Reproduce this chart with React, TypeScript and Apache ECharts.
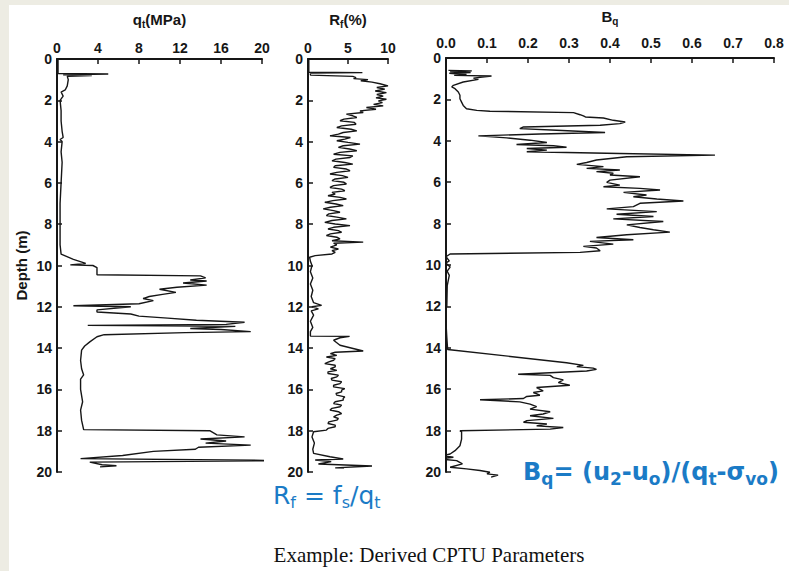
import React, { useEffect, useRef } from "react";
import * as echarts from "echarts";

// ---------- data (depth in m, value read from the profile) ----------
const qtDepth = [0, 0.7, 0.73, 0.76, 0.8, 0.84, 1.0, 1.3, 1.5, 1.6, 1.8, 2.0, 2.5, 3.0, 3.5, 3.8, 3.9, 4.0, 4.5, 5.0, 6.0, 7.0, 8.0, 9.0, 9.45, 9.7, 9.9, 9.97, 10.0, 10.1, 10.45, 10.5, 10.6, 10.7, 10.75, 10.85, 10.95, 11.05, 11.15, 11.3, 11.4, 11.5, 11.6, 11.7, 11.85, 11.95, 12.0, 12.15, 12.25, 12.35, 12.45, 12.55, 12.65, 12.75, 12.85, 12.9, 12.95, 13.05, 13.1, 13.2, 13.25, 13.35, 13.45, 13.7, 13.9, 14.1, 14.6, 15.0, 15.3, 15.5, 16.0, 16.6, 17.0, 17.5, 17.95, 18.0, 18.2, 18.3, 18.4, 18.5, 18.6, 18.7, 18.8, 18.9, 19.0, 19.2, 19.35, 19.45, 19.52, 19.65, 19.7, 19.75];
const qtValue = [0.1, 0.1, 5.0, 0.6, 3.4, 1.0, 1.1, 1.0, 0.8, 0.4, 0.6, 0.3, 0.4, 0.4, 0.5, 0.6, 0.3, 0.5, 0.4, 0.5, 0.4, 0.3, 0.3, 0.3, 0.4, 1.6, 2.8, 1.3, 3.5, 3.9, 3.9, 14.0, 14.5, 13.0, 14.6, 12.3, 14.6, 11.7, 10.0, 11.6, 10.3, 9.0, 8.4, 9.4, 8.0, 1.6, 7.2, 3.9, 3.9, 7.2, 8.0, 10.8, 13.6, 18.3, 16.5, 3.0, 17.4, 13.0, 16.0, 18.9, 12.5, 4.6, 3.9, 3.2, 2.7, 2.4, 2.3, 2.4, 2.6, 2.3, 2.3, 2.5, 2.3, 2.4, 2.6, 14.9, 15.6, 18.3, 14.0, 16.5, 14.5, 18.9, 13.8, 13.5, 9.4, 6.4, 2.3, 23.0, 3.2, 4.4, 5.8, 4.2];

const rfDepth = [0, 0.64, 0.66, 0.69, 0.78, 0.84, 0.9, 0.95, 1.0, 1.05, 1.12, 1.2, 1.3, 1.38, 1.46, 1.55, 1.63, 1.72, 1.8, 1.88, 1.95, 2.03, 2.11, 2.2, 2.27, 2.35, 2.43, 2.51, 2.59, 2.67, 2.75, 2.83, 2.91, 2.99, 3.07, 3.16, 3.24, 3.32, 3.4, 3.48, 3.56, 3.64, 3.72, 3.8, 3.88, 3.96, 4.04, 4.12, 4.2, 4.28, 4.36, 4.44, 4.52, 4.61, 4.69, 4.77, 4.85, 4.93, 5.01, 5.09, 5.17, 5.25, 5.33, 5.41, 5.49, 5.57, 5.65, 5.73, 5.81, 5.89, 5.97, 6.05, 6.13, 6.22, 6.3, 6.38, 6.46, 6.54, 6.62, 6.7, 6.78, 6.86, 6.94, 7.02, 7.1, 7.18, 7.26, 7.34, 7.42, 7.5, 7.58, 7.66, 7.74, 7.82, 7.91, 7.99, 8.07, 8.15, 8.23, 8.31, 8.39, 8.47, 8.55, 8.63, 8.71, 8.8, 8.87, 8.92, 9.0, 9.11, 9.2, 9.28, 9.36, 9.44, 9.52, 9.6, 9.8, 10.0, 10.3, 10.6, 10.9, 11.2, 11.5, 11.8, 11.93, 12.0, 12.1, 12.2, 12.4, 12.7, 13.0, 13.2, 13.42, 13.43, 13.5, 13.62, 13.86, 14.14, 14.2, 14.27, 14.35, 14.43, 14.51, 14.59, 14.67, 14.75, 14.83, 14.91, 15.0, 15.08, 15.15, 15.23, 15.31, 15.39, 15.47, 15.55, 15.63, 15.72, 15.8, 15.88, 15.96, 16.04, 16.12, 16.2, 16.28, 16.36, 16.44, 16.52, 16.6, 16.68, 16.76, 16.84, 16.92, 17.0, 17.08, 17.17, 17.25, 17.33, 17.41, 17.49, 17.57, 17.65, 17.73, 17.81, 17.89, 17.97, 18.05, 18.3, 18.6, 18.9, 19.1, 19.26, 19.37, 19.42, 19.5, 19.61, 19.71, 19.8, 19.82];
const rfValue = [0.1, 0.1, 6.8, 0.3, 0.3, 5.6, 6.0, 5.7, 7.5, 6.6, 8.0, 9.0, 10.0, 8.6, 9.6, 8.4, 9.8, 8.6, 9.4, 8.5, 9.8, 8.8, 9.3, 8.2, 9.4, 7.3, 8.5, 6.5, 6.9, 4.8, 5.6, 6.1, 4.5, 4.0, 5.8, 6.0, 4.2, 3.6, 5.4, 6.1, 4.4, 3.8, 2.75, 5.3, 4.6, 3.6, 5.0, 6.5, 4.4, 3.8, 5.2, 6.1, 4.0, 3.2, 5.6, 5.25, 3.5, 3.0, 4.6, 5.6, 3.4, 3.2, 4.8, 5.25, 3.6, 2.75, 4.3, 5.0, 3.4, 3.0, 4.5, 4.8, 3.2, 2.75, 4.2, 4.6, 3.0, 3.4, 2.5, 4.0, 4.8, 3.1, 2.1, 3.5, 4.4, 2.8, 1.9, 3.2, 4.0, 2.6, 2.3, 3.6, 4.8, 3.0, 2.1, 3.4, 5.25, 3.2, 2.5, 3.8, 4.2, 2.8, 2.3, 3.6, 4.0, 3.0, 6.9, 3.2, 3.6, 2.8, 3.8, 3.0, 3.4, 3.0, 0.9, 0.2, 0.3, 0.5, 0.3, 0.6, 0.3, 0.6, 0.4, 0.7, 1.7, 0.5, 1.3, 0.4, 0.7, 0.3, 0.6, 0.3, 0.3, 5.2, 4.0, 3.2, 4.0, 6.9, 3.4, 2.8, 3.6, 2.3, 3.4, 3.2, 2.6, 2.1, 3.4, 3.4, 2.8, 3.6, 2.5, 2.5, 3.8, 3.6, 2.9, 3.0, 4.2, 4.0, 3.2, 3.2, 4.6, 4.2, 4.2, 3.5, 3.6, 4.6, 4.4, 4.4, 3.4, 3.2, 4.2, 4.0, 3.0, 2.75, 3.8, 4.2, 3.6, 3.2, 3.8, 3.6, 2.6, 2.5, 3.4, 3.4, 2.5, 2.3, 0.7, 0.5, 0.8, 0.6, 0.7, 2.75, 4.4, 0.9, 2.9, 1.3, 8.0, 3.4, 4.5];

const bqDepth = [0.6, 0.62, 0.66, 0.7, 0.74, 0.8, 0.84, 0.87, 0.97, 1.03, 1.16, 1.32, 1.4, 1.48, 1.64, 1.8, 1.97, 2.13, 2.29, 2.45, 2.53, 2.57, 2.64, 2.74, 2.8, 2.85, 2.9, 3.01, 3.09, 3.17, 3.25, 3.33, 3.41, 3.49, 3.6, 3.67, 3.76, 3.86, 3.97, 4.08, 4.18, 4.24, 4.31, 4.37, 4.45, 4.53, 4.61, 4.69, 4.77, 4.93, 5.05, 5.14, 5.25, 5.33, 5.41, 5.49, 5.57, 5.65, 5.74, 5.9, 6.01, 6.14, 6.22, 6.3, 6.38, 6.49, 6.62, 6.7, 6.81, 6.91, 7.02, 7.18, 7.29, 7.42, 7.55, 7.66, 7.77, 7.9, 8.06, 8.19, 8.3, 8.41, 8.54, 8.67, 8.78, 8.86, 8.99, 9.1, 9.18, 9.31, 9.39, 9.47, 9.6, 9.8, 9.9, 10.1, 10.3, 10.5, 11.0, 12.0, 12.3, 12.6, 12.8, 13.5, 14.08, 14.72, 14.85, 14.91, 14.98, 15.04, 15.12, 15.28, 15.33, 15.44, 15.55, 15.68, 15.81, 15.92, 16.08, 16.16, 16.29, 16.35, 16.45, 16.51, 16.61, 16.72, 16.84, 16.96, 17.09, 17.2, 17.28, 17.41, 17.52, 17.6, 17.68, 17.77, 17.85, 17.93, 18.01, 18.06, 18.41, 18.73, 18.97, 19.13, 19.21, 19.29, 19.37, 19.45, 19.61, 19.77, 19.85, 19.93, 20.01, 20.09, 20.15, 20.25];
const bqValue = [0.006, 0.063, 0.01, 0.06, 0.008, 0.05, 0.02, 0.111, 0.067, 0.079, 0.042, 0.018, 0.014, 0.022, 0.03, 0.034, 0.034, 0.038, 0.042, 0.05, 0.075, 0.107, 0.311, 0.327, 0.335, 0.34, 0.384, 0.408, 0.437, 0.424, 0.376, 0.189, 0.18, 0.27, 0.388, 0.229, 0.079, 0.148, 0.205, 0.246, 0.172, 0.262, 0.294, 0.197, 0.246, 0.197, 0.424, 0.656, 0.441, 0.367, 0.343, 0.319, 0.384, 0.343, 0.424, 0.367, 0.408, 0.4, 0.473, 0.4, 0.392, 0.424, 0.384, 0.473, 0.522, 0.433, 0.489, 0.457, 0.514, 0.579, 0.473, 0.457, 0.392, 0.514, 0.416, 0.506, 0.408, 0.53, 0.441, 0.473, 0.506, 0.546, 0.441, 0.367, 0.457, 0.351, 0.408, 0.335, 0.367, 0.376, 0.327, 0.01, 0.0, 0.008, 0.0, 0.01, 0.003, 0.008, 0.003, 0.002, -0.01, -0.008, 0.0, 0.002, 0.004, 0.294, 0.335, 0.319, 0.359, 0.367, 0.343, 0.176, 0.254, 0.262, 0.286, 0.274, 0.302, 0.221, 0.237, 0.213, 0.229, 0.197, 0.189, 0.083, 0.18, 0.205, 0.221, 0.205, 0.254, 0.237, 0.205, 0.262, 0.197, 0.189, 0.246, 0.221, 0.286, 0.254, 0.034, 0.038, 0.038, 0.034, 0.022, 0.01, -0.007, 0.018, -0.015, 0.026, 0.04, 0.01, 0.05, 0.083, 0.107, 0.1, 0.127, 0.11];

// axis ranges / tick steps
const depthRange = [0, 20, 2];
const qtRange = [0, 20, 4];
const rfRange = [0, 10, 5];
const bqRange = [0, 0.8, 0.1];

const SANS = '"Liberation Sans", Arial, sans-serif';
const FORMULA_FONT = '"DejaVu Sans", Verdana, sans-serif';
const BLUE = "#1b7bc6";
const INK = "#161616";

function pairs(depth: number[], value: number[]) {
  return depth.map((d, i) => [value[i], d]);
}

function yAxis(gridIndex: number, withName: boolean) {
  return {
    type: "value",
    gridIndex,
    inverse: true,
    min: depthRange[0],
    max: depthRange[1],
    interval: depthRange[2],
    axisLine: { show: true, onZero: false, lineStyle: { color: INK, width: 2 } },
    axisTick: { show: true, inside: true, length: 5, lineStyle: { color: INK, width: 1.5 } },
    axisLabel: { color: INK, fontSize: 14, fontWeight: "bold", fontFamily: SANS, margin: 5 },
    splitLine: { show: false },
    name: withName ? "Depth (m)" : "",
    nameLocation: "middle",
    nameGap: 28,
    nameRotate: 90,
    nameTextStyle: { color: INK, fontSize: 15, fontWeight: "bold", fontFamily: SANS },
  };
}

function xAxis(gridIndex: number, range: number[], name: string, decimals: number, margin: number, nameGap: number) {
  return {
    type: "value",
    gridIndex,
    position: "top",
    min: range[0],
    max: range[1],
    interval: range[2],
    axisLine: { show: true, onZero: false, lineStyle: { color: INK, width: 2 } },
    axisTick: { show: true, inside: true, length: 5, lineStyle: { color: INK, width: 1.5 } },
    axisLabel: {
      color: INK,
      fontSize: 14,
      fontWeight: "bold",
      fontFamily: SANS,
      margin,
      formatter: (v: number) => v.toFixed(decimals),
    },
    splitLine: { show: false },
    name,
    nameLocation: "middle",
    nameGap,
    nameTextStyle: {
      color: INK,
      fontFamily: SANS,
      rich: {
        a: { fontSize: 15, fontWeight: "bold", fontFamily: SANS, color: INK },
        s: { fontSize: 10, fontWeight: "bold", fontFamily: SANS, color: INK, padding: [9, 0, 0, 0] },
      },
    },
  };
}

function lineSeries(i: number, data: number[][]) {
  return {
    type: "line",
    xAxisIndex: i,
    yAxisIndex: i,
    data,
    symbol: "none",
    showSymbol: false,
    clip: false,
    lineStyle: { color: INK, width: 1.4 },
    silent: true,
  };
}

export default function App() {
  const ref = useRef<HTMLDivElement>(null);

  useEffect(() => {
    if (!ref.current) return;
    const chart = echarts.init(ref.current, undefined, { renderer: "svg" });
    const subRich = (size: number, bold: boolean, ratio: number) => ({
      a: { fontSize: size, fontWeight: bold ? "bold" : "normal", fontFamily: FORMULA_FONT, fill: BLUE },
      s: {
        fontSize: Math.round(size * ratio),
        fontWeight: bold ? "bold" : "normal",
        fontFamily: FORMULA_FONT,
        fill: BLUE,
        padding: [Math.round(size * 0.55), 0, 0, 0],
      },
    });
    chart.setOption({
      animation: false,
      backgroundColor: "#edece3",
      grid: [
        { left: 57, top: 59, width: 205, height: 413 },
        { left: 308, top: 59, width: 80, height: 413 },
        { left: 446, top: 58, width: 328, height: 414 },
      ],
      xAxis: [
        xAxis(0, qtRange, "{a|q}{s|t}{a|(MPa)}", 0, 4, 30),
        xAxis(1, rfRange, "{a|R}{s|f}{a|(%)}", 0, 4, 30),
        xAxis(2, bqRange, "{a|B}{s|q}", 1, 8, 32),
      ],
      yAxis: [yAxis(0, true), yAxis(1, false), yAxis(2, false)],
      series: [
        lineSeries(0, pairs(qtDepth, qtValue)),
        lineSeries(1, pairs(rfDepth, rfValue)),
        lineSeries(2, pairs(bqDepth, bqValue)),
      ],
      graphic: [
        {
          type: "rect",
          z: -10,
          silent: true,
          shape: { x: 9, y: 5, width: 780, height: 566 },
          style: { fill: "#ffffff" },
        },
        {
          type: "text",
          x: 273,
          y: 480,
          silent: true,
          style: { text: "{a|R}{s|f}{a| = f}{s|s}{a|/q}{s|t}", rich: subRich(25, false, 0.62), fill: BLUE },
        },
        {
          type: "text",
          x: 523,
          y: 457,
          silent: true,
          style: {
            text: "{a|B}{s|q}{a|= (u}{s|2}{a|-u}{s|o}{a|)/(q}{s|t}{a|-σ}{s|vo}{a|)}",
            rich: subRich(24, true, 0.7),
            fill: BLUE,
          },
        },
        {
          type: "text",
          x: 429,
          y: 555,
          silent: true,
          style: {
            text: "Example: Derived CPTU Parameters",
            fontFamily: '"Liberation Serif", "Times New Roman", serif',
            fontSize: 21,
            fill: "#111",
            align: "center",
            verticalAlign: "middle",
          },
        },
      ],
    });
    return () => chart.dispose();
  }, []);

  return (
    <div
      ref={ref}
      style={{ position: "absolute", left: 0, top: 0, width: 789, height: 571 }}
    />
  );
}
